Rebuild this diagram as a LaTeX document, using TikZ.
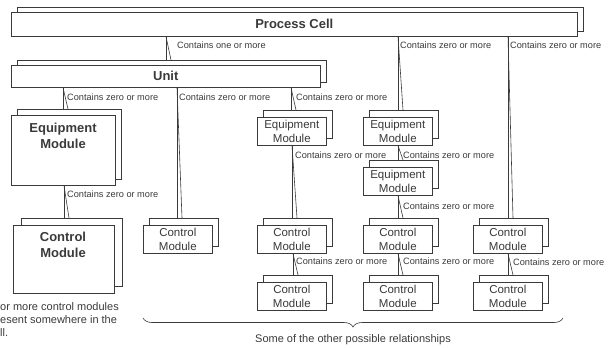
\documentclass[tikz,border=0pt]{standalone}
\usepackage{fontspec}
\setmainfont{Liberation Sans}
\usetikzlibrary{decorations.pathreplacing}
\pgfdeclarelayer{bg}
\pgfsetlayers{bg,main}
\definecolor{ink}{HTML}{3A3A3A}
\tikzset{
  box/.style={draw=ink, fill=white, line width=0.6pt, inner sep=0pt,
    anchor=north west, align=center, text=ink},
  smallbox/.style={box, minimum width=69pt, minimum height=28pt,
    font=\fontsize{11.5}{14}\selectfont},
  link/.style={draw=ink, line width=0.6pt},
  lab/.style={anchor=west, inner sep=0pt, text=ink,
    font=\fontsize{9.2}{11}\selectfont},
  bigtxt/.style={align=center, inner sep=0pt, text=ink,
    font=\fontsize{13}{16.5}\selectfont\bfseries},
}
% a module drawn as a stack of two sheets: #1 name, (#2,#3) top-left, #4 text
\newcommand\stackbox[4]{%
  \node[smallbox] (#1b) at (#2+6,#3-7) {};
  \node[smallbox] (#1) at (#2,#3) {#4};}
% containment link: vertical line to the front sheet, slanted one to the back sheet
\newcommand\haslink[4]{%
  \coordinate (ta) at (#4,0);
  \coordinate (tb) at (#4+5,0);
  \draw[link] (#1.south -| ta) -- (#2.north -| ta);
  \draw[link] (#1.south -| ta) -- (#3.north -| tb);}
\begin{document}
\begin{tikzpicture}[x=1pt,y=-1pt]
\useasboundingbox (0,0) rectangle (616,348);

% Process Cell
\node[box, minimum width=566pt, minimum height=24pt] (pcb) at (17,7) {};
\node[box, minimum width=566pt, minimum height=24pt,
  font=\fontsize{13}{16}\selectfont\bfseries] (pcf) at (11,12) {Process Cell};

% Unit
\node[box, minimum width=309pt, minimum height=22pt] (ub) at (17,60) {};
\node[box, minimum width=309pt, minimum height=22pt,
  font=\fontsize{13}{16}\selectfont\bfseries] (uf) at (11,65) {Unit};

% large equipment module and control module
\node[box, minimum width=104pt, minimum height=70pt] (emb) at (17,109) {};
\node[box, minimum width=104pt, minimum height=70pt] (emf) at (11,115) {};
\node[bigtxt] (emt) at (63,136) {Equipment\\Module};
\node[box, minimum width=101pt, minimum height=68pt] (cmb) at (21,218) {};
\node[box, minimum width=101pt, minimum height=68pt] (cmf) at (13,225) {};
\node[bigtxt] (cmt) at (63,245) {Control\\Module};

% other possible relationships
\stackbox{c2}{143}{225}{Control\\Module}
\stackbox{e3}{257}{117}{Equipment\\Module}
\stackbox{c3a}{257}{225}{Control\\Module}
\stackbox{c3b}{257}{282}{Control\\Module}
\stackbox{e4a}{363}{117}{Equipment\\Module}
\stackbox{e4b}{363}{167}{Equipment\\Module}
\stackbox{c4a}{363}{225}{Control\\Module}
\stackbox{c4b}{363}{282}{Control\\Module}
\stackbox{c5a}{473}{225}{Control\\Module}
\stackbox{c5b}{473}{282}{Control\\Module}

\begin{pgfonlayer}{bg}
  \haslink{pcf}{uf}{ub}{166}
  \haslink{uf}{emf}{emb}{63}
  \haslink{uf}{c2}{c2b}{177}
  \haslink{uf}{e3}{e3b}{291}
  \haslink{emf}{cmf}{cmb}{64}
  \haslink{e3}{c3a}{c3ab}{292}
  \haslink{c3a}{c3b}{c3bb}{293}
  \haslink{pcf}{e4a}{e4ab}{398}
  \haslink{e4a}{e4b}{e4bb}{398}
  \haslink{e4b}{c4a}{c4ab}{398}
  \haslink{c4a}{c4b}{c4bb}{398}
  \haslink{pcf}{c5a}{c5ab}{508}
  \haslink{c5a}{c5b}{c5bb}{508}
\end{pgfonlayer}

% link labels
\node[lab] (l1) at (177,45) {Contains one or more};
\node[lab] (l2) at (67,97) {Contains zero or more};
\node[lab] (l3) at (179,97) {Contains zero or more};
\node[lab] (l4) at (296,97) {Contains zero or more};
\node[lab] (l5) at (67,194) {Contains zero or more};
\node[lab] (l6) at (295,155) {Contains zero or more};
\node[lab] (l7) at (296,261) {Contains zero or more};
\node[lab] (l8) at (400,45) {Contains zero or more};
\node[lab] (l9) at (403,155) {Contains zero or more};
\node[lab] (l10) at (403,206) {Contains zero or more};
\node[lab] (l11) at (403,261) {Contains zero or more};
\node[lab] (l12) at (510,45) {Contains zero or more};
\node[lab] (l13) at (513,262) {Contains zero or more};

% note under the left column
\node[anchor=north west, inner sep=0pt, align=left, text=ink,
  font=\fontsize{11}{13}\selectfont] (note) at (0,302)
  {or more control modules\\esent somewhere in the\\ll.};

% brace over the alternatives
\coordinate (bl) at (143,318);
\coordinate (br) at (563,318);
\draw[ink, line width=0.6pt, decorate,
  decoration={brace, mirror, amplitude=9pt}] (bl) -- (br);
\node[text=ink, inner sep=0pt, font=\fontsize{11}{13}\selectfont] (cap)
  at (353,340) {Some of the other possible relationships};
\end{tikzpicture}
\end{document}
